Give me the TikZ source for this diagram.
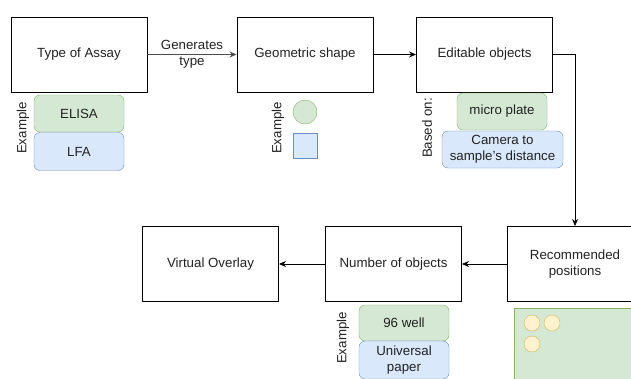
\documentclass[tikz,border=0pt]{standalone}
\usepackage{fontspec}
\setmainfont{Liberation Sans}
\usetikzlibrary{arrows.meta}
\definecolor{gfill}{HTML}{D5E8D4}
\definecolor{gline}{HTML}{82B366}
\definecolor{bfill}{HTML}{DAE8FC}
\definecolor{bline}{HTML}{6C8EBF}
\definecolor{yfill}{HTML}{FFF2CC}
\definecolor{yline}{HTML}{D6B656}
\definecolor{txt}{HTML}{222222}
\tikzset{
  fnt/.style={font=\fontsize{13.3}{16}\selectfont, text=txt},
  stepbox/.style={draw=black, line width=0.9pt, fill=white, minimum width=136pt, minimum height=75pt, inner sep=0pt, align=center, fnt},
  gbox/.style={draw=gline, fill=gfill, rounded corners=6pt, inner sep=0pt, align=center, fnt},
  bbox/.style={draw=bline, fill=bfill, rounded corners=6pt, inner sep=0pt, align=center, fnt},
  vlabel/.style={rotate=90, inner sep=0pt, fnt},
  conn/.style={-{Stealth[length=7pt,width=6pt]}, line width=0.8pt},
}
\begin{document}
\begin{tikzpicture}[x=1pt,y=-1pt]
\useasboundingbox (0,0) rectangle (631,378);
\clip (0,0) rectangle (631,378);
% top row
\node[stepbox] (assay) at (79,54.5) {Type of Assay};
\node[stepbox] (geo) at (305,54.5) {Geometric shape};
\node[stepbox] (edit) at (484.5,54.5) {Editable objects};
% bottom row
\node[stepbox] (rec) at (575,264) {Recommended\\positions};
\node[stepbox] (num) at (393.5,264) {Number of objects};
\node[stepbox] (virt) at (210.5,264) {Virtual Overlay};
% examples
\node[gbox, minimum width=90pt, minimum height=37pt] (elisa) at (79,113.5) {ELISA};
\node[bbox, minimum width=90pt, minimum height=38pt] (lfa) at (79,151.5) {LFA};
\node[vlabel] (ex1) at (23,128) {Example};
\node[circle, draw=gline, fill=gfill, minimum size=24pt, inner sep=0pt] (circ) at (305,112) {};
\node[draw=bline, fill=bfill, minimum width=24pt, minimum height=25pt, inner sep=0pt] (sq) at (305,145.5) {};
\node[vlabel] (ex2) at (278,128) {Example};
\node[gbox, minimum width=90pt, minimum height=37pt] (micro) at (502,111.5) {micro plate};
\node[bbox, minimum width=121pt, minimum height=37pt] (cam) at (502.5,149.5) {Camera to\\sample's distance};
\node[vlabel] (based) at (427,128) {Based on:};
\node[gbox, minimum width=90pt, minimum height=36pt] (well) at (404,323) {96 well};
\node[bbox, minimum width=90pt, minimum height=38pt] (paper) at (404,360) {Universal\\paper};
\node[vlabel] (ex3) at (343,338) {Example};
% plate
\node[draw=gline, fill=gfill, minimum width=140pt, minimum height=90pt, inner sep=0pt, anchor=north west] (plate) at (514,308) {};
\node[circle, draw=yline, fill=yfill, minimum size=16pt, inner sep=0pt] (w1) at (532,323) {};
\node[circle, draw=yline, fill=yfill, minimum size=16pt, inner sep=0pt] (w2) at (552,323) {};
\node[circle, draw=yline, fill=yfill, minimum size=16pt, inner sep=0pt] (w3) at (532,344) {};
% connectors
\draw[conn, draw=black!70, line width=1.2pt] (assay) -- node[fnt, align=center, inner sep=0pt] (lab) {Generates\\type} (geo);
\draw[conn] (geo) -- (edit);
\coordinate (bend) at (575,54.5);
\draw[conn] (edit.east) -- (bend) -- (rec.north);
\draw[conn] (rec) -- (num);
\draw[conn] (num) -- (virt);
\end{tikzpicture}
\end{document}
